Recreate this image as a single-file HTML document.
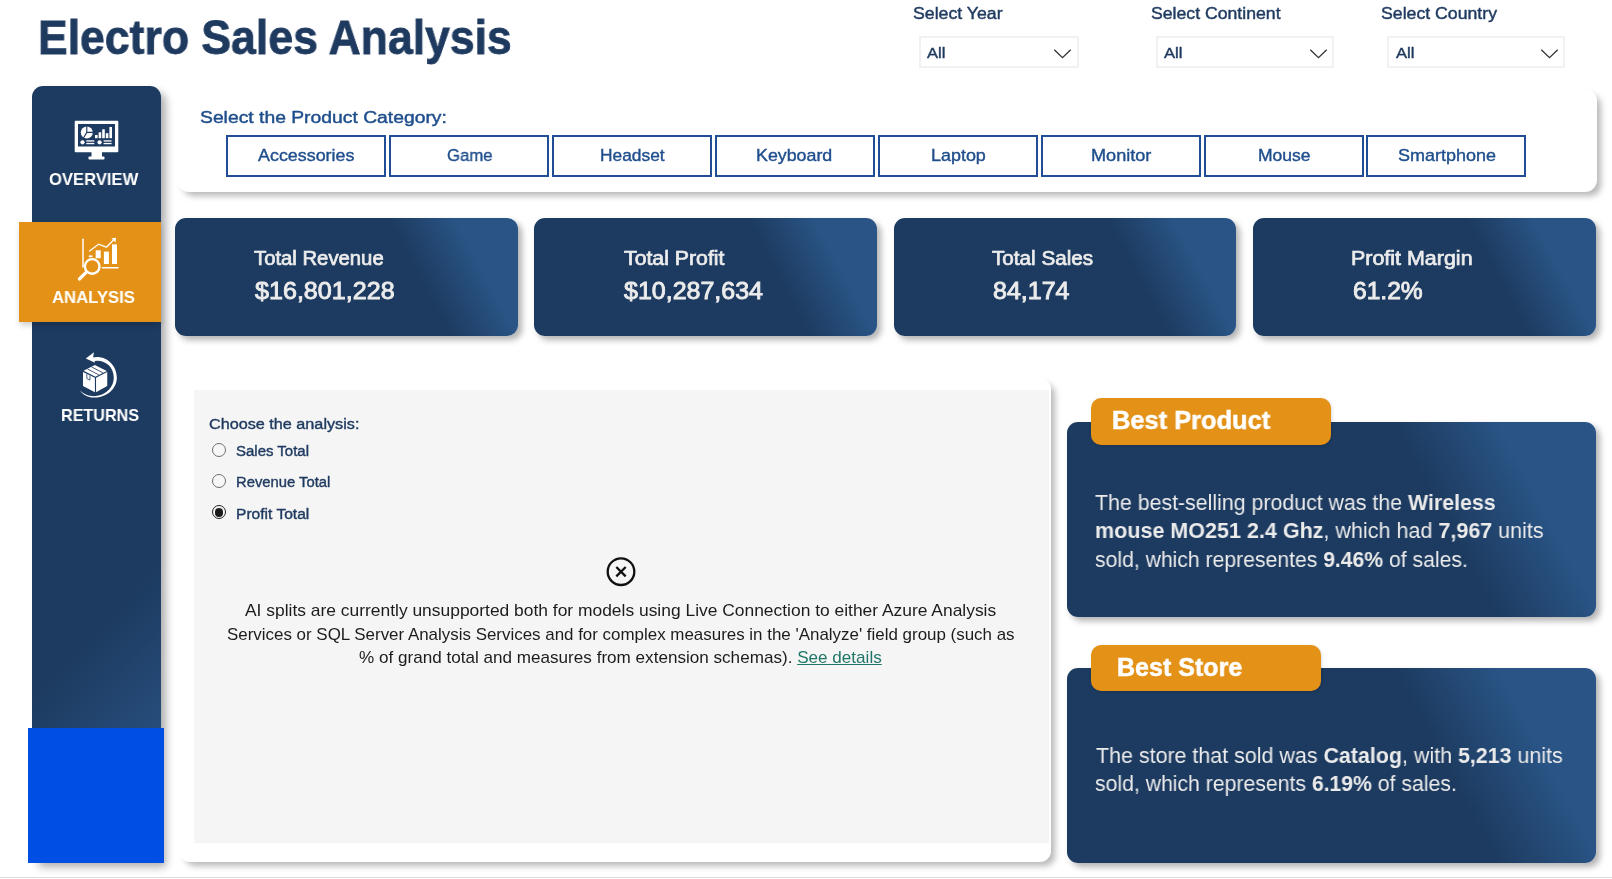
<!DOCTYPE html>
<html lang="en"><head><meta charset="utf-8">
<title>Electro Sales Analysis</title>
<style>
*{box-sizing:border-box;margin:0;padding:0}
html,body{width:1612px;height:879px;overflow:hidden;background:#fff;font-family:"Liberation Sans",sans-serif}
.t{will-change:transform;position:absolute;white-space:pre;transform-origin:0 50%;font-family:"Liberation Sans",sans-serif}
.abs{position:absolute}
.side{left:32px;top:85.5px;width:129px;height:777px;border-radius:11px 11px 0 0;
  background:linear-gradient(133deg,#1d3b60 0%,#1d3b60 67%,#295384 91%,#295384 100%);box-shadow:6px 5px 8px -1px rgba(0,0,0,.32)}
.orange{left:19px;top:222px;width:142px;height:100px;background:#e39217;box-shadow:0 4px 6px -1px rgba(0,0,0,.2)}
.blue{left:28px;top:728px;width:136px;height:134.5px;background:#004ee4}
.catpanel{left:177px;top:88.8px;width:1419.5px;height:103.7px;border-radius:12px;background:#fff;box-shadow:5px 5px 6px -1px rgba(0,0,0,.28)}
.btn{top:135.2px;width:160px;height:41.6px;border:2px solid #1f4e94;background:#fff}
.kpi{top:218px;width:342.5px;height:117.5px;border-radius:11px;
  background:linear-gradient(62deg,#1d3b60 0%,#1d3b60 68%,#295485 84.5%,#295485 100%);box-shadow:4px 4px 6px rgba(0,0,0,.3)}
.dd{top:36.3px;height:31.4px;border:2px solid #f1f1f1;background:#fff}
.wpanel{left:179px;top:378px;width:872px;height:484px;border-radius:11px;background:#fff;box-shadow:5px 5px 6px -1px rgba(0,0,0,.28)}
.gpanel{left:194px;top:390px;width:854.5px;height:453px;background:#f5f5f5}
.radio{width:14px;height:14px;border-radius:50%;border:1px solid #6e6e6e;background:#f7f7f7;left:212px}
.card{left:1067px;width:529px;border-radius:11px;
  background:linear-gradient(62deg,#1d3b60 0%,#1d3b60 68%,#295485 84.5%,#295485 100%);box-shadow:4px 4px 6px rgba(0,0,0,.3)}
.tag{background:#e39217;border-radius:10px;left:1091.2px;box-shadow:1px 1px 3px rgba(0,0,0,.15)}
.bline{left:0;top:876.5px;width:1612px;height:1px;background:#dcdcdc}

</style></head>
<body>
<div class="abs bline"></div>
<div class="abs side"></div>
<div class="abs orange"></div>
<div class="abs blue"></div>
<!-- icons -->
<svg class="abs" style="left:74px;top:120px" width="46" height="41" viewBox="0 0 46 41">
  <rect x="0.7" y="0.7" width="43.6" height="31.6" rx="1" fill="#fff"/>
  <rect x="4" y="4" width="37" height="22.5" fill="#1d3b60"/>
  <rect x="17.5" y="32" width="10.5" height="5" fill="#fff"/>
  <rect x="14.5" y="36.6" width="16" height="3" rx="0.8" fill="#fff"/>
  <circle cx="12.8" cy="12.4" r="6" fill="#fff"/>
  <path d="M12.8 12.4 L12.8 6 M12.8 12.4 L19 12.4 M12.8 12.4 L9.6 17.8" stroke="#1d3b60" stroke-width="1.1" fill="none"/>
  <rect x="21" y="15" width="2.6" height="3.2" fill="#fff"/>
  <rect x="24.6" y="12.3" width="2.6" height="5.9" fill="#fff"/>
  <rect x="28.2" y="9.3" width="2.6" height="8.9" fill="#fff"/>
  <rect x="31.8" y="13.2" width="2.6" height="5" fill="#fff"/>
  <rect x="35.4" y="7" width="2.6" height="11.2" fill="#fff"/>
  <circle cx="8.5" cy="22.3" r="2.1" fill="#fff"/>
  <rect x="12.3" y="20.3" width="8" height="1.3" fill="#fff"/>
  <rect x="12.3" y="22.9" width="8" height="1.3" fill="#fff"/>
  <circle cx="25.6" cy="22.3" r="2.1" fill="#fff"/>
  <rect x="29.6" y="20.3" width="8" height="1.3" fill="#fff"/>
  <rect x="29.6" y="22.9" width="8" height="1.3" fill="#fff"/>
</svg>
<svg class="abs" style="left:76px;top:236px" width="44" height="46" viewBox="0 0 44 46">
  <g stroke="#fff" fill="none" stroke-linecap="round">
    <path d="M7 3.2 L7 31" stroke-width="1.5"/>
    <path d="M26.5 31.8 L42 31.8" stroke-width="1.6"/>
    <path d="M13.6 15 L22.6 8.2 L30.4 11.2 L37.8 3.8" stroke-width="1.3"/>
    <circle cx="16.2" cy="30.4" r="7.3" stroke-width="2.4"/>
    <path d="M10.4 36.2 L3.4 43" stroke-width="3.2"/>
  </g>
  <path d="M35.4 2.2 L40 1.8 L39.5 6.5 Z" fill="#fff"/>
  <rect x="19.7" y="14.3" width="5" height="8" fill="#fff"/>
  <rect x="27.9" y="15.6" width="5" height="12.4" fill="#fff"/>
  <rect x="36" y="8.4" width="5" height="19.6" fill="#fff"/>
  <rect x="12.8" y="19.4" width="3.6" height="1.8" fill="#fff"/>
</svg>
<svg class="abs" style="left:76.5px;top:349.8px" width="45" height="51" viewBox="0 0 44 50">
  <path d="M14.5 7.5 C26 4 39 13 39 27 C39 39.5 27 48 14 46.5 C9 45.8 5 43 2.5 39.5 C6 43 10 44.8 14.5 45.2 C26 46 36 38 36 27 C36 15.5 26 8.5 15.5 11 Z" fill="#fff"/>
  <path d="M8.5 8.3 L16.6 2.2 L15.8 6.4 L17.6 12.6 Z" fill="#fff"/>
  <path d="M5.8 21.5 L17.5 27.3 L17.5 41.3 L5.8 35.2 Z" fill="#fff"/>
  <path d="M18.6 27.3 L29.6 21.6 L29.6 35.2 L18.6 41.3 Z" fill="#fff"/>
  <path d="M6.4 20.4 L17.4 14.8 L29.2 20.5 L18 26.2 Z" fill="#fff"/>
  <path d="M10.2 18.6 L21.4 24.4 M14.2 16.6 L25.4 22.4" stroke="#1d3b60" stroke-width="0.8"/>
  <path d="M9.6 23.6 L9.6 28 L12.6 29.5 L12.6 25.1" stroke="#1d3b60" stroke-width="0.8" fill="none"/>
</svg>
<!-- slicers -->
<div class="abs dd" style="left:918.5px;width:160px"></div>
<div class="abs dd" style="left:1156px;width:178px"></div>
<div class="abs dd" style="left:1387px;width:178px"></div>
<svg class="abs" style="left:1052.9px;top:47.8px" width="19" height="12" viewBox="0 0 19 12"><path d="M1.3 1.8 L9.5 9.7 L17.7 1.8" stroke="#333" stroke-width="1.3" fill="none"/></svg>
<svg class="abs" style="left:1308.7px;top:47.8px" width="19" height="12" viewBox="0 0 19 12"><path d="M1.3 1.8 L9.5 9.7 L17.7 1.8" stroke="#333" stroke-width="1.3" fill="none"/></svg>
<svg class="abs" style="left:1539.7px;top:47.8px" width="19" height="12" viewBox="0 0 19 12"><path d="M1.3 1.8 L9.5 9.7 L17.7 1.8" stroke="#333" stroke-width="1.3" fill="none"/></svg>
<!-- category panel -->
<div class="abs catpanel"></div>
<div class="abs btn" style="left:226.1px"></div>
<div class="abs btn" style="left:389.0px"></div>
<div class="abs btn" style="left:551.9px"></div>
<div class="abs btn" style="left:714.8px"></div>
<div class="abs btn" style="left:877.7px"></div>
<div class="abs btn" style="left:1040.6px"></div>
<div class="abs btn" style="left:1203.5px"></div>
<div class="abs btn" style="left:1366.4px"></div>
<!-- KPI -->
<div class="abs kpi" style="left:175px"></div>
<div class="abs kpi" style="left:534.3px"></div>
<div class="abs kpi" style="left:893.7px"></div>
<div class="abs kpi" style="left:1253.3px"></div>
<!-- analysis panel -->
<div class="abs wpanel"></div>
<div class="abs gpanel"></div>
<div class="abs radio" style="top:443.2px"></div>
<div class="abs radio" style="top:474.3px"></div>
<div class="abs radio" style="top:505.3px;border-color:#222"><div style="position:absolute;left:1.7px;top:1.7px;width:8.6px;height:8.6px;border-radius:50%;background:#1a1a1a"></div></div>
<svg class="abs" style="left:605px;top:556px" width="32" height="32" viewBox="0 0 32 32">
  <circle cx="16" cy="15.7" r="13.3" stroke="#111" stroke-width="2.3" fill="none"/>
  <path d="M11.3 11 L20.7 20.4 M20.7 11 L11.3 20.4" stroke="#111" stroke-width="2.3" fill="none"/>
</svg>
<!-- right cards -->
<div class="abs card" style="top:422.3px;height:194.6px"></div>
<div class="abs tag" style="top:398px;width:240px;height:46.7px"></div>
<div class="abs card" style="top:667.7px;height:195px"></div>
<div class="abs tag" style="top:644.5px;width:230.3px;height:46px"></div>

<div class="t" style="left:38.02px;top:6.66px;font-size:47.19px;line-height:61.34px;color:#1f3a5f;font-weight:700;-webkit-text-stroke:0.8px #1f3a5f;transform:scaleX(0.9440);">Electro Sales Analysis</div>
<div class="t" style="left:48.60px;top:168.27px;font-size:17.39px;line-height:22.61px;color:#fff;font-weight:700;transform:scaleX(0.9562);">OVERVIEW</div>
<div class="t" style="left:52.32px;top:287.06px;font-size:17.10px;line-height:22.23px;color:#fff;font-weight:700;transform:scaleX(0.9767);">ANALYSIS</div>
<div class="t" style="left:61.20px;top:405.04px;font-size:16.81px;line-height:21.86px;color:#fff;font-weight:700;transform:scaleX(0.9617);">RETURNS</div>
<div class="t" style="left:912.65px;top:2.47px;font-size:17.30px;line-height:22.5px;color:#1f3a5f;-webkit-text-stroke:0.45px #1f3a5f;transform:scaleX(1.0239);">Select Year</div>
<div class="t" style="left:1150.84px;top:2.47px;font-size:17.30px;line-height:22.5px;color:#1f3a5f;-webkit-text-stroke:0.45px #1f3a5f;transform:scaleX(1.0216);">Select Continent</div>
<div class="t" style="left:1381.24px;top:2.47px;font-size:17.30px;line-height:22.5px;color:#1f3a5f;-webkit-text-stroke:0.45px #1f3a5f;transform:scaleX(1.0236);">Select Country</div>
<div class="t" style="left:926.99px;top:44.31px;font-size:14.17px;line-height:18.43px;color:#1f3a5f;-webkit-text-stroke:0.4px #1f3a5f;transform:scaleX(1.1682);">All</div>
<div class="t" style="left:1164.18px;top:44.31px;font-size:14.17px;line-height:18.43px;color:#1f3a5f;-webkit-text-stroke:0.4px #1f3a5f;transform:scaleX(1.1682);">All</div>
<div class="t" style="left:1395.58px;top:44.31px;font-size:14.17px;line-height:18.43px;color:#1f3a5f;-webkit-text-stroke:0.4px #1f3a5f;transform:scaleX(1.1682);">All</div>
<div class="t" style="left:200.41px;top:106.22px;font-size:17.16px;line-height:22.31px;color:#1f4e8c;-webkit-text-stroke:0.45px #1f4e8c;transform:scaleX(1.1254);">Select the Product Category:</div>
<div class="t" style="left:258.17px;top:144.28px;font-size:17.22px;line-height:22.38px;color:#1f4e8c;-webkit-text-stroke:0.4px #1f4e8c;transform:scaleX(1.0400);">Accessories</div>
<div class="t" style="left:446.88px;top:144.28px;font-size:17.22px;line-height:22.38px;color:#1f4e8c;-webkit-text-stroke:0.4px #1f4e8c;transform:scaleX(0.9715);">Game</div>
<div class="t" style="left:599.59px;top:144.28px;font-size:17.22px;line-height:22.38px;color:#1f4e8c;-webkit-text-stroke:0.4px #1f4e8c;transform:scaleX(1.0085);">Headset</div>
<div class="t" style="left:756.36px;top:144.28px;font-size:17.22px;line-height:22.38px;color:#1f4e8c;-webkit-text-stroke:0.4px #1f4e8c;transform:scaleX(1.0357);">Keyboard</div>
<div class="t" style="left:930.75px;top:144.28px;font-size:17.22px;line-height:22.38px;color:#1f4e8c;-webkit-text-stroke:0.4px #1f4e8c;transform:scaleX(1.0421);">Laptop</div>
<div class="t" style="left:1090.55px;top:144.28px;font-size:17.22px;line-height:22.38px;color:#1f4e8c;-webkit-text-stroke:0.4px #1f4e8c;transform:scaleX(1.0529);">Monitor</div>
<div class="t" style="left:1257.58px;top:144.28px;font-size:17.22px;line-height:22.38px;color:#1f4e8c;-webkit-text-stroke:0.4px #1f4e8c;transform:scaleX(1.0185);">Mouse</div>
<div class="t" style="left:1397.95px;top:144.28px;font-size:17.22px;line-height:22.38px;color:#1f4e8c;-webkit-text-stroke:0.4px #1f4e8c;transform:scaleX(1.0446);">Smartphone</div>
<div class="t" style="left:254.20px;top:245.88px;font-size:19.91px;line-height:25.89px;color:#ececec;-webkit-text-stroke:0.7px #ececec;transform:scaleX(1.0188);">Total Revenue</div>
<div class="t" style="left:255.09px;top:275.25px;font-size:24.17px;line-height:31.43px;color:#ececec;-webkit-text-stroke:0.9px #ececec;transform:scaleX(1.0393);">$16,801,228</div>
<div class="t" style="left:624.20px;top:245.88px;font-size:19.91px;line-height:25.89px;color:#ececec;-webkit-text-stroke:0.7px #ececec;transform:scaleX(1.0682);">Total Profit</div>
<div class="t" style="left:624.17px;top:275.25px;font-size:24.17px;line-height:31.43px;color:#ececec;-webkit-text-stroke:0.9px #ececec;transform:scaleX(1.0348);">$10,287,634</div>
<div class="t" style="left:992.40px;top:245.88px;font-size:19.91px;line-height:25.89px;color:#ececec;-webkit-text-stroke:0.7px #ececec;transform:scaleX(1.0382);">Total Sales</div>
<div class="t" style="left:993.09px;top:275.25px;font-size:24.17px;line-height:31.43px;color:#ececec;-webkit-text-stroke:0.9px #ececec;transform:scaleX(1.0351);">84,174</div>
<div class="t" style="left:1351.12px;top:245.88px;font-size:19.91px;line-height:25.89px;color:#ececec;-webkit-text-stroke:0.7px #ececec;transform:scaleX(1.0773);">Profit Margin</div>
<div class="t" style="left:1352.60px;top:275.25px;font-size:24.17px;line-height:31.43px;color:#ececec;-webkit-text-stroke:0.9px #ececec;transform:scaleX(1.0177);">61.2%</div>
<div class="t" style="left:209.45px;top:414.35px;font-size:15.04px;line-height:19.56px;color:#1f3a5f;-webkit-text-stroke:0.4px #1f3a5f;transform:scaleX(1.0777);">Choose the analysis:</div>
<div class="t" style="left:235.90px;top:441.68px;font-size:14.61px;line-height:18.99px;color:#1f3a5f;-webkit-text-stroke:0.4px #1f3a5f;transform:scaleX(1.0253);">Sales Total</div>
<div class="t" style="left:236.43px;top:472.98px;font-size:14.61px;line-height:18.99px;color:#1f3a5f;-webkit-text-stroke:0.4px #1f3a5f;transform:scaleX(1.0130);">Revenue Total</div>
<div class="t" style="left:236.34px;top:504.88px;font-size:14.61px;line-height:18.99px;color:#1f3a5f;-webkit-text-stroke:0.4px #1f3a5f;transform:scaleX(1.0666);">Profit Total</div>
<div class="t" style="left:245.40px;top:600.14px;font-size:16.81px;line-height:21.86px;color:#1c1c1c;transform:scaleX(1.0368);">AI splits are currently unsupported both for models using Live Connection to either Azure Analysis</div>
<div class="t" style="left:226.96px;top:623.84px;font-size:16.81px;line-height:21.86px;color:#1c1c1c;transform:scaleX(1.0076);">Services or SQL Server Analysis Services and for complex measures in the &#x27;Analyze&#x27; field group (such as</div>
<div class="t" style="left:359.08px;top:647.04px;font-size:16.81px;line-height:21.86px;color:#1c1c1c;transform:scaleX(1.0180);">% of grand total and measures from extension schemas). <span style='color:#1f7567;text-decoration:underline'>See details</span></div>
<div class="t" style="left:1111.65px;top:403.54px;font-size:25.65px;line-height:33.35px;color:#fff;font-weight:700;-webkit-text-stroke:0.5px #fff;transform:scaleX(0.9914);">Best Product</div>
<div class="t" style="left:1117.08px;top:650.52px;font-size:25.07px;line-height:32.59px;color:#fff;font-weight:700;-webkit-text-stroke:0.5px #fff;transform:scaleX(0.9984);">Best Store</div>
<div class="t" style="left:1095.47px;top:487.92px;font-size:22.46px;line-height:29.2px;color:#ebebeb;transform:scaleX(0.9500);">The best-selling product was the <b>Wireless</b></div>
<div class="t" style="left:1095.44px;top:515.92px;font-size:22.46px;line-height:29.2px;color:#ebebeb;transform:scaleX(0.9586);"><b>mouse MO251 2.4 Ghz</b>, which had <b>7,967</b> units</div>
<div class="t" style="left:1094.98px;top:545.12px;font-size:22.46px;line-height:29.2px;color:#ebebeb;transform:scaleX(0.9423);">sold, which representes <b>9.46%</b> of sales.</div>
<div class="t" style="left:1095.78px;top:740.52px;font-size:22.46px;line-height:29.2px;color:#ebebeb;transform:scaleX(0.9541);">The store that sold was <b>Catalog</b>, with <b>5,213</b> units</div>
<div class="t" style="left:1094.98px;top:769.42px;font-size:22.46px;line-height:29.2px;color:#ebebeb;transform:scaleX(0.9442);">sold, which represents <b>6.19%</b> of sales.</div>
</body></html>
